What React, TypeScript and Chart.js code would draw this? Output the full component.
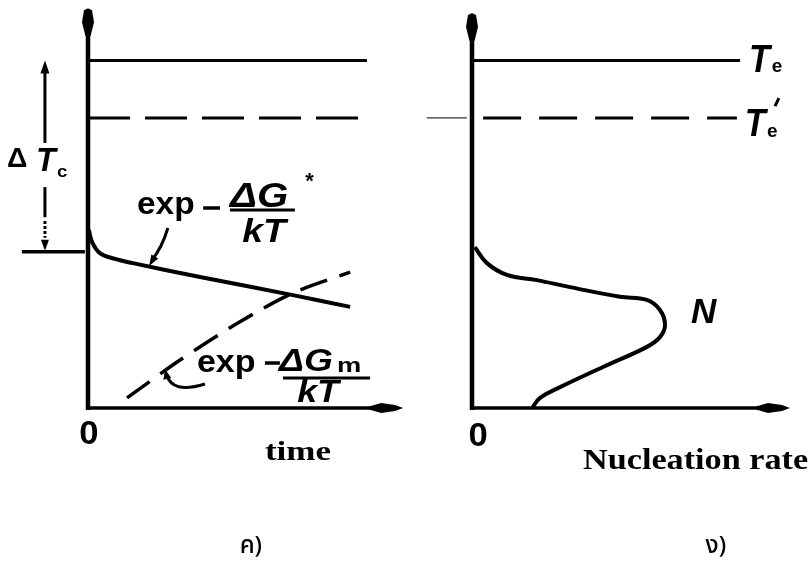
import React, { useEffect, useRef } from "react";
import { Chart, registerables } from "chart.js";

Chart.register(...registerables);

// Temperature levels (arbitrary units, 0 at the time / rate axis)
const TE = 100;
const TE_PRIME = 83.5;
const TC = 45;
const Y_MAX = 116;

// Left panel (c): driving terms vs. time
const growthTime = [0.03, 0.13, 0.38, 0.87, 1.44, 3.59, 6.57, 8.4];
const growthTerm = [51.2, 47.8, 44.6, 42.9, 41.7, 37.7, 32.5, 29.1];
const diffusionTime = [1.25, 2.95, 4.87, 6.57, 8.4];
const diffusionTerm = [2.9, 13.8, 24.8, 33.1, 39.1];

// Right panel (d): nucleation rate N vs. temperature
const nucleationRate = [0.09, 0.47, 1.1, 2.04, 3.08, 4.65, 5.5, 5.91, 6.07, 5.91, 5.5, 4.12, 2.77, 2.14, 1.89];
const nucleationTemp = [46.3, 41.7, 38.3, 36.8, 34.8, 32.0, 31.1, 28.2, 23.9, 20.4, 17.6, 11.8, 6.0, 2.9, 0];

// Axis captions and sub-figure labels
const leftAxisLabel = "time";
const rightAxisLabel = "Nucleation rate";
const originLabel = "0";
const leftCaption = "ค)";
const rightCaption = "ง)";

const SANS = '"Liberation Sans", Arial, sans-serif';
const SERIF = '"Liberation Serif", "Times New Roman", serif';
const THAI = '"Noto Sans Thai", "Noto Sans", "DejaVu Sans", sans-serif';

type Pt = { x: number; y: number };
const zip = (xs: number[], ys: number[]): Pt[] => xs.map((x, i) => ({ x, y: ys[i] }));

function text(
  ctx: CanvasRenderingContext2D,
  s: string,
  x: number,
  y: number,
  font: string,
  sx = 1,
  align: "left" | "center" = "left"
) {
  ctx.save();
  ctx.font = font;
  ctx.textBaseline = "alphabetic";
  ctx.textAlign = "left";
  ctx.fillStyle = "#000";
  ctx.translate(x, y);
  ctx.scale(sx, 1);
  const w = ctx.measureText(s).width;
  ctx.fillText(s, align === "center" ? -w / 2 : 0, 0);
  ctx.restore();
}

function seg(ctx: CanvasRenderingContext2D, x1: number, y1: number, x2: number, y2: number, w: number) {
  ctx.save();
  ctx.strokeStyle = "#000";
  ctx.lineWidth = w;
  ctx.beginPath();
  ctx.moveTo(x1, y1);
  ctx.lineTo(x2, y2);
  ctx.stroke();
  ctx.restore();
}

function arrowHead(
  ctx: CanvasRenderingContext2D,
  tipX: number,
  tipY: number,
  fromX: number,
  fromY: number,
  len: number,
  half: number
) {
  const a = Math.atan2(tipY - fromY, tipX - fromX);
  const bx = tipX - len * Math.cos(a);
  const by = tipY - len * Math.sin(a);
  ctx.save();
  ctx.fillStyle = "#000";
  ctx.beginPath();
  ctx.moveTo(tipX, tipY);
  ctx.lineTo(bx + half * Math.sin(a), by - half * Math.cos(a));
  ctx.lineTo(bx - half * Math.sin(a), by + half * Math.cos(a));
  ctx.closePath();
  ctx.fill();
  ctx.restore();
}

// Thick hand-drawn style axes with arrow tips
function drawAxes(chart: Chart, xEnd: number, yTop: number) {
  const { ctx } = chart;
  const xs = chart.scales.x;
  const ys = chart.scales.y;
  const x0 = xs.getPixelForValue(0);
  const y0 = ys.getPixelForValue(0);
  const xe = xs.getPixelForValue(xEnd);
  const yt = ys.getPixelForValue(yTop);
  ctx.save();
  ctx.fillStyle = "#000";
  seg(ctx, x0, y0 + 2, x0, yt + 20, 4.5);
  seg(ctx, x0 - 2, y0, xe - 20, y0, 3.5);
  ctx.beginPath();
  ctx.moveTo(x0 - 2.5, yt + 28);
  ctx.lineTo(x0 - 6, yt + 14);
  ctx.lineTo(x0 - 4, yt + 2);
  ctx.lineTo(x0, yt);
  ctx.lineTo(x0 + 4, yt + 2);
  ctx.lineTo(x0 + 6, yt + 14);
  ctx.lineTo(x0 + 2.5, yt + 28);
  ctx.closePath();
  ctx.fill();
  ctx.beginPath();
  ctx.moveTo(xe - 34, y0 - 1.5);
  ctx.lineTo(xe - 22, y0 - 5);
  ctx.lineTo(xe - 8, y0 - 3);
  ctx.lineTo(xe, y0);
  ctx.lineTo(xe - 8, y0 + 3);
  ctx.lineTo(xe - 22, y0 + 5);
  ctx.lineTo(xe - 34, y0 + 1.5);
  ctx.closePath();
  ctx.fill();
  ctx.restore();
}

const leftOverlay = {
  id: "leftOverlay",
  afterDatasetsDraw(chart: Chart) {
    const { ctx } = chart;
    const X = (v: number) => chart.scales.x.getPixelForValue(v);
    const Y = (v: number) => chart.scales.y.getPixelForValue(v);
    drawAxes(chart, 10.1, 115.1);

    // undercooling arrow
    const ax = X(-1.38);
    seg(ctx, ax, Y(TE) + 10, ax, Y(76.3), 3);
    arrowHead(ctx, ax, Y(TE), ax, Y(TE) + 12, 13, 4.5);
    seg(ctx, ax, Y(63.6), ax, Y(54.9), 3);
    ctx.save();
    ctx.setLineDash([3, 2]);
    seg(ctx, ax, Y(53.8), ax, Y(49), 3);
    ctx.restore();
    arrowHead(ctx, ax, Y(TC) - 1, ax, Y(TC) - 12, 11, 4);
    text(ctx, "Δ", X(-2.6), Y(69.4), `bold 27px ${SANS}`, 1.05);
    text(ctx, "T", X(-1.67), Y(68.2), `italic bold 34px ${SANS}`, 0.95);
    text(ctx, "c", X(-0.99), Y(66.5), `bold 17px ${SANS}`, 1.1);

    // exp(-ΔG*/kT)
    text(ctx, "exp", X(1.57), Y(55.84), `bold 31px ${SANS}`, 1.08);
    seg(ctx, X(3.69), Y(57.57), X(4.23), Y(57.57), 3.5);
    text(ctx, "ΔG", X(4.55), Y(58.0), `italic bold 35px ${SANS}`, 1.15);
    text(ctx, "*", X(6.96), Y(63.3), `bold 22px ${SANS}`, 1);
    seg(ctx, X(4.55), Y(57.0), X(6.63), Y(57.0), 3);
    text(ctx, "kT", X(5.64), Y(47.8), `italic bold 34px ${SANS}`, 1.1, "center");
    ctx.save();
    ctx.strokeStyle = "#000";
    ctx.lineWidth = 3;
    ctx.beginPath();
    ctx.moveTo(X(2.56), Y(51.8));
    ctx.quadraticCurveTo(X(2.37), Y(46.1), X(2.05), Y(42.6));
    ctx.stroke();
    ctx.restore();
    arrowHead(ctx, X(1.96), Y(40.9), X(2.3), Y(46), 11, 4);

    // exp(-ΔGm/kT)
    text(ctx, "exp", X(3.49), Y(10.36), `bold 31px ${SANS}`, 1.1);
    seg(ctx, X(5.67), Y(12.95), X(6.15), Y(12.95), 3.5);
    text(ctx, "ΔG", X(6.12), Y(10.65), `italic bold 31px ${SANS}`, 1.2);
    text(ctx, "m", X(7.98), Y(10.3), `bold 21px ${SANS}`, 1.3);
    seg(ctx, X(6.25), Y(8.64), X(9.04), Y(8.64), 3);
    text(ctx, "kT", X(7.37), Y(1.73), `italic bold 31px ${SANS}`, 1.15, "center");
    ctx.save();
    ctx.strokeStyle = "#000";
    ctx.lineWidth = 3;
    ctx.beginPath();
    ctx.moveTo(X(3.75), Y(6.9));
    ctx.quadraticCurveTo(X(2.69), Y(4.0), X(2.52), Y(9.6));
    ctx.stroke();
    ctx.restore();
    arrowHead(ctx, X(2.47), Y(11.2), X(2.6), Y(6), 10, 4);

    // axis labels
    text(ctx, originLabel, X(0.03), Y(-10.4), `bold 33px ${SANS}`, 1.05, "center");
    text(ctx, leftAxisLabel, X(5.67), Y(-15.0), `bold 28px ${SERIF}`, 1.25);
    text(ctx, leftCaption, X(5.22), Y(-41.7), `500 24px ${THAI}`, 1, "center");
  },
};

const rightOverlay = {
  id: "rightOverlay",
  afterDatasetsDraw(chart: Chart) {
    const { ctx } = chart;
    const X = (v: number) => chart.scales.x.getPixelForValue(v);
    const Y = (v: number) => chart.scales.y.getPixelForValue(v);
    drawAxes(chart, 10.0, 113.7);

    text(ctx, "T", X(8.71), Y(96.7), `italic bold 38px ${SANS}`, 0.9);
    text(ctx, "e", X(9.43), Y(96.7), `bold 19px ${SANS}`, 1);
    text(ctx, "T", X(8.58), Y(78.3), `italic bold 38px ${SANS}`, 0.9);
    text(ctx, "e", X(9.28), Y(78.0), `bold 19px ${SANS}`, 1);
    seg(ctx, X(9.65), Y(89.2), X(9.53), Y(86.9), 3);
    text(ctx, "N", X(6.89), Y(24.5), `italic bold 35px ${SANS}`, 1);

    text(ctx, originLabel, X(0.19), Y(-10.9), `bold 33px ${SANS}`, 1.05, "center");
    text(ctx, rightAxisLabel, X(3.49), Y(-17.6), `bold 29px ${SERIF}`, 1.18);
    text(ctx, rightCaption, X(7.67), Y(-41.7), `500 24px ${THAI}`, 1, "center");
  },
};

const line = (data: Pt[], width: number, extra: Record<string, unknown> = {}) => ({
  data,
  showLine: true,
  borderColor: "#000",
  borderWidth: width,
  pointRadius: 0,
  clip: false,
  ...extra,
});

function makeOptions(padLeft: number, padRight: number) {
  return {
    animation: false as const,
    responsive: false,
    devicePixelRatio: 1,
    events: [],
    layout: { padding: { left: padLeft, right: padRight, top: 5, bottom: 154 } },
    plugins: { legend: { display: false }, tooltip: { enabled: false } },
    scales: {
      x: { type: "linear" as const, min: 0, max: 10, display: false },
      y: { type: "linear" as const, min: 0, max: Y_MAX, display: false },
    },
  };
}

export default function App() {
  const leftRef = useRef<HTMLCanvasElement>(null);
  const rightRef = useRef<HTMLCanvasElement>(null);

  useEffect(() => {
    const left = new Chart(leftRef.current!, {
      type: "scatter",
      data: {
        datasets: [
          line([{ x: 0, y: TE }, { x: 8.94, y: TE }], 3),
          line([{ x: 0, y: TE_PRIME }, { x: 8.8, y: TE_PRIME }], 3, { borderDash: [42, 15] }),
          line([{ x: -2.12, y: TC }, { x: -0.1, y: TC }], 3.5),
          line(zip(growthTime, growthTerm), 4, { tension: 0.4 }),
          line(zip(diffusionTime, diffusionTerm), 3.5, { tension: 0.3, borderDash: [28, 13] }),
        ],
      },
      options: makeOptions(88, 410) as any,
      plugins: [leftOverlay as any],
    });

    const right = new Chart(rightRef.current!, {
      type: "scatter",
      data: {
        datasets: [
          line([{ x: 0, y: TE }, { x: 8.43, y: TE }], 3),
          line([{ x: 0.35, y: TE_PRIME }, { x: 8.33, y: TE_PRIME }], 3, { borderDash: [38, 18] }),
          line([{ x: -1.42, y: TE_PRIME }, { x: -0.16, y: TE_PRIME }], 1),
          line(zip(nucleationRate, nucleationTemp), 4, { tension: 0.4 }),
        ],
      },
      options: makeOptions(472, 20) as any,
      plugins: [rightOverlay as any],
    });

    return () => {
      left.destroy();
      right.destroy();
    };
  }, []);

  const canvasStyle: React.CSSProperties = { position: "absolute", left: 0, top: 0 };
  return (
    <div style={{ position: "absolute", left: 0, top: 0, width: 810, height: 562, background: "#fff" }}>
      <canvas ref={leftRef} width={810} height={562} style={canvasStyle} />
      <canvas ref={rightRef} width={810} height={562} style={canvasStyle} />
    </div>
  );
}
